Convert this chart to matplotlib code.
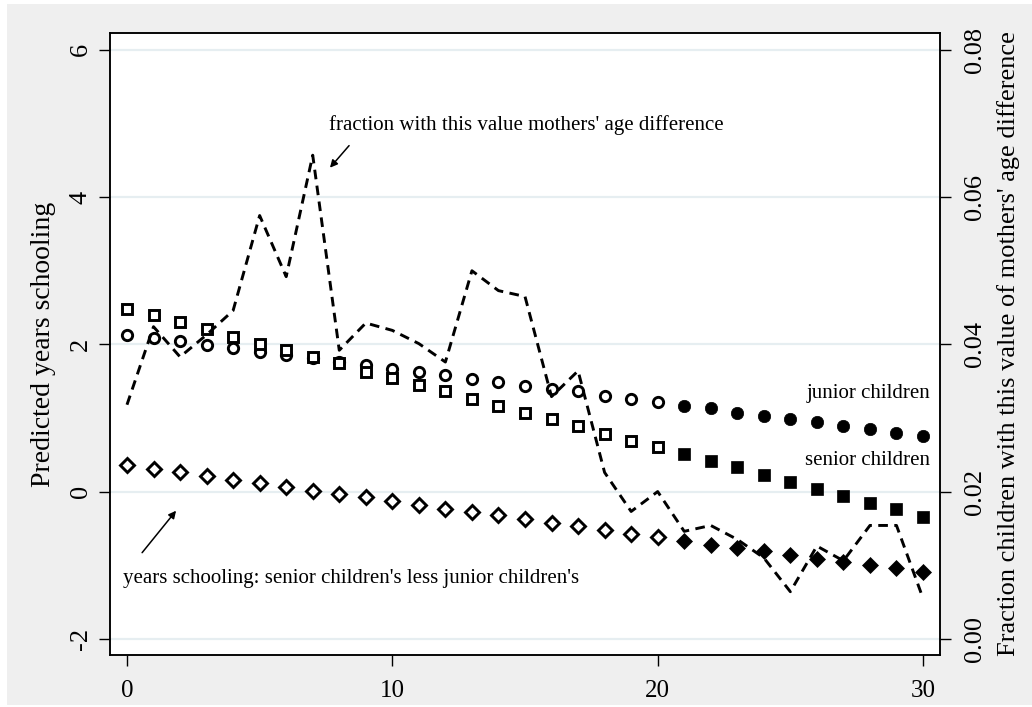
import matplotlib
matplotlib.use("Agg")
import matplotlib.pyplot as plt
from matplotlib.patches import Rectangle
import numpy as np

# mothers' age difference (x axis)
age_diff = list(range(31))

# predicted years schooling
junior = [2.13, 2.08, 2.04, 1.99, 1.95, 1.90, 1.86, 1.82, 1.76, 1.72,
          1.67, 1.63, 1.58, 1.53, 1.49, 1.44, 1.40, 1.36, 1.30, 1.26,
          1.22, 1.16, 1.13, 1.07, 1.03, 0.99, 0.94, 0.89, 0.85, 0.80, 0.76]
senior = [2.48, 2.40, 2.31, 2.21, 2.10, 2.01, 1.92, 1.83, 1.75, 1.63,
          1.54, 1.45, 1.37, 1.26, 1.16, 1.07, 0.98, 0.89, 0.78, 0.69,
          0.60, 0.51, 0.42, 0.33, 0.23, 0.13, 0.04, -0.06, -0.15, -0.24, -0.34]
difference = [0.36, 0.31, 0.26, 0.21, 0.16, 0.11, 0.06, 0.01, -0.03, -0.08,
              -0.13, -0.18, -0.23, -0.28, -0.32, -0.37, -0.42, -0.47, -0.52, -0.57,
              -0.62, -0.67, -0.72, -0.76, -0.81, -0.86, -0.91, -0.96, -1.00, -1.04, -1.09]

# fraction of children with this value of mothers' age difference (right axis)
fraction = [0.0318, 0.0424, 0.0383, 0.0413, 0.0446, 0.0575, 0.0492, 0.0657, 0.0392, 0.0429,
            0.0419, 0.0401, 0.0376, 0.0500, 0.0473, 0.0465, 0.0329, 0.0364, 0.0226, 0.0173,
            0.0200, 0.0146, 0.0154, 0.0135, 0.0110, 0.0064, 0.0126, 0.0106, 0.0154, 0.0154, 0.0055]

cutoff = 21  # points from here on are drawn filled

plt.rcParams['font.family'] = ['Liberation Serif', 'DejaVu Serif']
plt.rcParams['axes.unicode_minus'] = False

fig = plt.figure(figsize=(10.32, 7.07), dpi=100, facecolor='white')
fig.patches.append(Rectangle((7 / 1032, 2 / 707), 1 - 7 / 1032, 1 - 6 / 707,
                             transform=fig.transFigure, facecolor='#efefef',
                             edgecolor='none', zorder=-10))

ax = fig.add_axes([110 / 1032, 1 - 655 / 707, 830 / 1032, 622 / 707])
ax.set_facecolor('white')

for yv in [-2, 0, 2, 4, 6]:
    ax.axhline(yv, color='#e6eef1', lw=1.6, zorder=0)

x = np.array(age_diff)
ms = 7.4
for vals, mk, size in [(junior, 'o', ms), (senior, 's', ms), (difference, 'D', ms * 0.95)]:
    vals = np.array(vals)
    ax.plot(x[:cutoff], vals[:cutoff], ls='none', marker=mk, ms=size,
            mfc='white', mec='black', mew=2.1, zorder=3)
    ax.plot(x[cutoff:], vals[cutoff:], ls='none', marker=mk, ms=size + 1.5,
            mfc='black', mec='black', mew=0.5, zorder=3)

ax.set_xlim(-0.64, 30.64)
ax.set_ylim(-2.22, 6.23)
ax.set_xticks([0, 10, 20, 30])
ax.set_yticks([-2, 0, 2, 4, 6])
ax.set_ylabel("Predicted years schooling", fontsize=20, labelpad=10)
ax.tick_params(axis='both', length=8, width=1, labelsize=18, direction='out')
ax.tick_params(axis='x', pad=10)
ax.tick_params(axis='y', pad=5, labelsize=19)
for lab in ax.get_yticklabels():
    lab.set_rotation(90)
    lab.set_va('center')

ax2 = ax.twinx()
ax2.plot(x, fraction, color='black', lw=2.1, ls=(0, (3.3, 2.2)), zorder=2)
ax2.set_ylim(-0.0022, 0.0823)
ax2.set_yticks([0.0, 0.02, 0.04, 0.06, 0.08])
ax2.set_yticklabels(["0.00", "0.02", "0.04", "0.06", "0.08"], rotation=90, va='center')
ax2.tick_params(axis='y', length=8, width=1, labelsize=19, pad=9)
ax2.set_ylabel("Fraction children with this value of mothers' age difference",
               fontsize=19, labelpad=8)

for a in (ax, ax2):
    for sp in a.spines.values():
        sp.set_linewidth(1.1)

arrow = dict(arrowstyle='-|>', color='black', lw=1.1,
             shrinkA=0, shrinkB=0, mutation_scale=11)

ax.text(30.27, 1.33, "junior children", fontsize=15, ha='right', va='center')
ax.text(30.27, 0.42, "senior children", fontsize=15, ha='right', va='center')

ax.text(7.6, 4.98, "fraction with this value mothers' age difference",
        fontsize=15, ha='left', va='center')
ax.annotate("", xy=(7.65, 4.40), xytext=(8.37, 4.70), arrowprops=arrow)

ax.text(-0.14, -1.18, "years schooling: senior children's less junior children's",
        fontsize=15, ha='left', va='center')
ax.annotate("", xy=(1.85, -0.26), xytext=(0.57, -0.83), arrowprops=arrow)

fig.savefig("out.png", dpi=100, facecolor=fig.get_facecolor())
